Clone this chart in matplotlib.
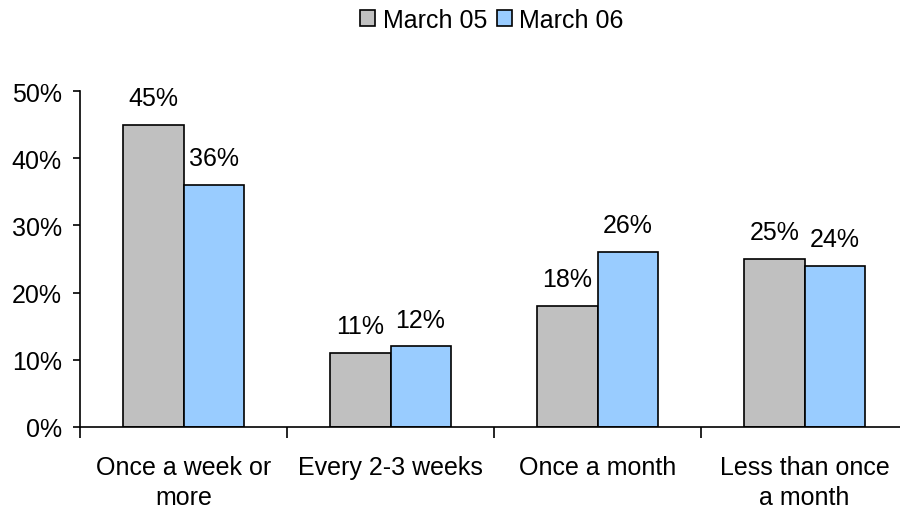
import numpy as np
import matplotlib
matplotlib.use('Agg')
from matplotlib import pyplot as plt

plt.rcParams['font.family'] = ['Liberation Sans', 'DejaVu Sans']

categories = ['Once a week or\nmore', 'Every 2-3 weeks', 'Once a month', 'Less than once\na month']
march05 = [45, 11, 18, 25]
march06 = [36, 12, 26, 24]
series_names = ['March 05', 'March 06']
colors = ['#C0C0C0', '#99CCFF']

fs = 18
fig = plt.figure(figsize=(9, 5.1), dpi=100)
ax = fig.add_axes([80/900, 1 - 428/510, 828/900, 336/510])

x = np.arange(len(categories))
w = 0.29
b1 = ax.bar(x - w/2, march05, w, color=colors[0], edgecolor='black', linewidth=1.2, label=series_names[0])
b2 = ax.bar(x + w/2, march06, w, color=colors[1], edgecolor='black', linewidth=1.2, label=series_names[1])

for bars, vals in [(b1, march05), (b2, march06)]:
    for r, v in zip(bars, vals):
        ax.text(r.get_x() + r.get_width()/2, v + 2.2, '%d%%' % v, ha='center', va='bottom', fontsize=fs)

ax.set_xlim(-0.5, len(categories) - 0.5)
ax.set_ylim(0, 50)
ax.set_yticks(range(0, 51, 10))
ax.set_yticklabels(['%d%%' % t for t in range(0, 51, 10)], fontsize=fs)

# category labels in the middle, tick marks between the groups
ax.set_xticks(np.arange(-0.5, len(categories), 1.0))
ax.set_xticklabels([])
ax.set_xticks(x, minor=True)
ax.set_xticklabels(categories, minor=True, fontsize=fs, linespacing=1.35)
ax.tick_params(axis='x', which='minor', length=0, pad=20)
ax.tick_params(axis='x', which='major', length=8, width=1.2, direction='out')
ax.tick_params(axis='y', length=5, width=1.2, direction='out', pad=8)

for s in ['top', 'right']:
    ax.spines[s].set_visible(False)
for s in ['left', 'bottom']:
    ax.spines[s].set_linewidth(1.2)

fig.legend(loc='center', bbox_to_anchor=(492/900, 1 - 21/510), ncol=2, frameon=False,
           fontsize=fs, handlelength=0.6, handleheight=0.6, handletextpad=0.3, columnspacing=0.4)

fig.savefig('out.png', dpi=100)
